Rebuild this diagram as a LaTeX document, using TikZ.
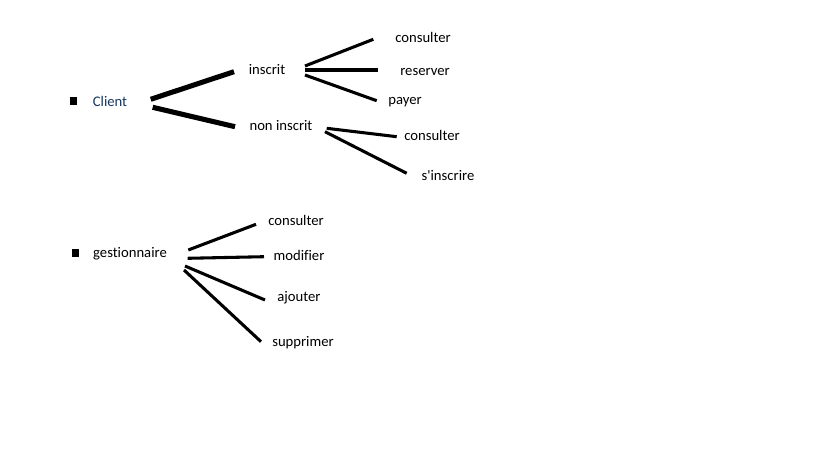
\documentclass[tikz,border=0pt]{standalone}
\usepackage{fontspec}
\setmainfont{Carlito}[Ligatures={NoCommon}]
\definecolor{clientblue}{HTML}{17365D}
\begin{document}
\begin{tikzpicture}[x=0.75pt,y=-0.75pt,
  lbl/.style={font=\fontsize{11}{13}\selectfont,inner sep=0pt,text=black,text height=7.6pt,text depth=0pt},
  bullet/.style={fill=black,minimum size=5.5pt,inner sep=0pt},
  thickline/.style={line width=3.8pt},
  medline/.style={line width=2.3pt}]
\useasboundingbox[fill=white] (0,0) rectangle (819,460);
% Client tree
\node[bullet] (b1) at (73.5,101) {};
\node[lbl,text=clientblue] (client) at (110,101.5) {Client};
\node[lbl] (inscrit) at (267,69.5) {inscrit};
\node[lbl] (noninscrit) at (281,125.5) {non inscrit};
\node[lbl] (c1) at (423,37.5) {consulter};
\node[lbl] (r1) at (425,70.5) {reserver};
\node[lbl] (p1) at (405,99) {payer};
\node[lbl] (c2) at (432,135) {consulter};
\node[lbl] (s1) at (448,175) {s\textquotesingle inscrire};
\coordinate (cA) at (150.7,99.3);
\coordinate (iA) at (234,71.7);
\coordinate (cB) at (152.7,107.3);
\coordinate (nA) at (235,126.7);
\coordinate (i1) at (305,66);
\coordinate (i1e) at (373.3,39.3);
\coordinate (i2) at (305,70);
\coordinate (i2e) at (378.3,70);
\coordinate (i3) at (305,75);
\coordinate (i3e) at (376.7,100.7);
\coordinate (n1) at (326.7,128.3);
\coordinate (n1e) at (396.7,136.7);
\coordinate (n2) at (325,131.7);
\coordinate (n2e) at (406.7,173.3);
\draw[thickline] (cA) -- (iA);
\draw[thickline] (cB) -- (nA);
\draw[medline] (i1) -- (i1e);
\draw[medline] (i2) -- (i2e);
\draw[medline] (i3) -- (i3e);
\draw[medline] (n1) -- (n1e);
\draw[medline] (n2) -- (n2e);
% gestionnaire tree
\node[bullet] (b2) at (75.5,253) {};
\node[lbl] (gest) at (130,252.5) {gestionnaire};
\node[lbl] (gc) at (296,220.5) {consulter};
\node[lbl] (gm) at (299,255) {modifier};
\node[lbl] (ga) at (299,296.5) {ajouter};
\node[lbl] (gs) at (303,341) {supprimer};
\coordinate (g1) at (188.3,250);
\coordinate (g1e) at (256,224.3);
\coordinate (g2) at (187.7,258.3);
\coordinate (g2e) at (264,256.7);
\coordinate (g3) at (185,266);
\coordinate (g3e) at (265,300);
\coordinate (g4) at (184,270);
\coordinate (g4e) at (261,341.7);
\draw[medline] (g1) -- (g1e);
\draw[medline] (g2) -- (g2e);
\draw[medline] (g3) -- (g3e);
\draw[medline] (g4) -- (g4e);
\end{tikzpicture}
\end{document}
